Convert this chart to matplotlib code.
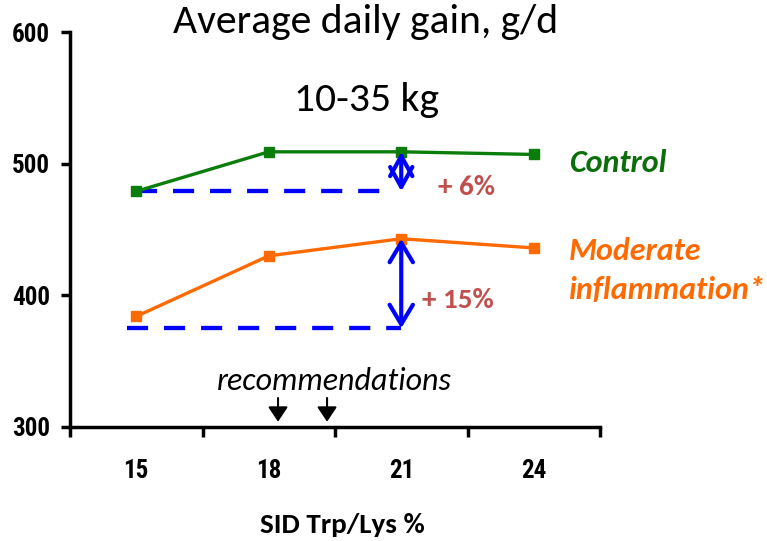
import matplotlib
matplotlib.use("Agg")
import matplotlib.pyplot as plt
from matplotlib.ticker import FixedLocator

categories = ["15", "18", "21", "24"]
control = [479, 509, 509, 507]
moderate = [384, 430, 443, 436]
ref_control = 479
ref_moderate = 375
rec_positions = [1.07, 1.44]
y_ticks = [300, 400, 500, 600]

GREEN = "#0a7d0a"
GREEN_TXT = "#0b6e0b"
ORANGE = "#ff6a00"
BLUE = "#0000ff"
RED = "#c0504d"

narrow = ["Roboto Condensed", "DejaVu Sans"]
cal = ["Carlito", "DejaVu Sans"]

fig = plt.figure(figsize=(7.67, 5.41), dpi=100)
ax = fig.add_axes([70/767, (541-427)/541, (600-70)/767, (427-32)/541])

x = list(range(len(categories)))
ax.plot(x, control, color=GREEN, lw=2.4, marker="s", ms=7, zorder=3)
ax.plot(x, moderate, color=ORANGE, lw=2.4, marker="s", ms=7, zorder=3)

ax.plot([0, 1.93], [ref_control, ref_control], color=BLUE, lw=3.1, dashes=(4.9, 3.7), zorder=2)
ax.plot([-0.07, 2.0], [ref_moderate, ref_moderate], color=BLUE, lw=3.1, dashes=(4.9, 3.7), zorder=2)

ax.annotate("", xy=(2, control[2]), xytext=(2, ref_control),
            arrowprops=dict(arrowstyle="<->,head_length=0.72,head_width=0.4", color=BLUE, lw=3,
                            mutation_scale=20, shrinkA=0, shrinkB=0))
ax.annotate("", xy=(2, moderate[2]), xytext=(2, ref_moderate),
            arrowprops=dict(arrowstyle="<->,head_length=0.7,head_width=0.42", color=BLUE, lw=3,
                            mutation_scale=20, shrinkA=0, shrinkB=0))

for xr in rec_positions:
    ax.annotate("", xy=(xr, 304), xytext=(xr, 322),
                arrowprops=dict(arrowstyle="-|>,head_length=0.45,head_width=0.3", color="black", lw=1.5,
                                mutation_scale=20, shrinkA=0, shrinkB=0))

ax.set_xlim(-0.5, 3.5)
ax.set_ylim(300, 600)
ax.set_yticks(y_ticks)
ax.set_yticklabels([str(v) for v in y_ticks], family=narrow, fontweight="bold", fontsize=18)
ax.set_xticks(x)
ax.set_xticklabels(categories, family=narrow, fontweight="bold", fontsize=18)
ax.xaxis.set_minor_locator(FixedLocator([-0.5, 0.5, 1.5, 2.5, 3.5]))
ax.tick_params(axis="x", which="major", length=0, pad=23)
ax.tick_params(axis="x", which="minor", length=7, width=2.5, direction="out")
ax.tick_params(axis="y", which="major", length=6.5, width=2.5, direction="out", pad=8)

for s in ["top", "right"]:
    ax.spines[s].set_visible(False)
for s in ["left", "bottom"]:
    ax.spines[s].set_linewidth(2.5)

fig.text(366/767, 1-22/541, "Average daily gain, g/d", ha="center", va="center",
         family=cal, fontsize=30)
fig.text(366/767, 1-100/541, "10-35 kg", ha="center", va="center", family=cal, fontsize=30)

fig.text(466/767, 1-187/541, "+ 6%", ha="center", va="center", family=cal,
         fontweight="bold", fontsize=21, color=RED)
fig.text(458/767, 1-300/541, "+ 15%", ha="center", va="center", family=cal,
         fontweight="bold", fontsize=21, color=RED)

fig.text(569/767, 1-163/541, "Control", ha="left", va="center", family=cal,
         fontweight="bold", style="italic", fontsize=23, color=GREEN_TXT)
fig.text(569/767, 1-251/541, "Moderate", ha="left", va="center", family=cal,
         fontweight="bold", style="italic", fontsize=23, color=ORANGE)
fig.text(569/767, 1-290/541, "inflammation*", ha="left", va="center", family=cal,
         fontweight="bold", style="italic", fontsize=23, color=ORANGE)

fig.text(334/767, 1-381/541, "recommendations", ha="center", va="center", family=cal,
         style="italic", fontsize=23, color="black")
fig.text(342/767, 1-525/541, "SID Trp/Lys %", ha="center", va="center", family=cal,
         fontweight="bold", fontsize=21, color="black")

fig.savefig("out.png", dpi=100)
